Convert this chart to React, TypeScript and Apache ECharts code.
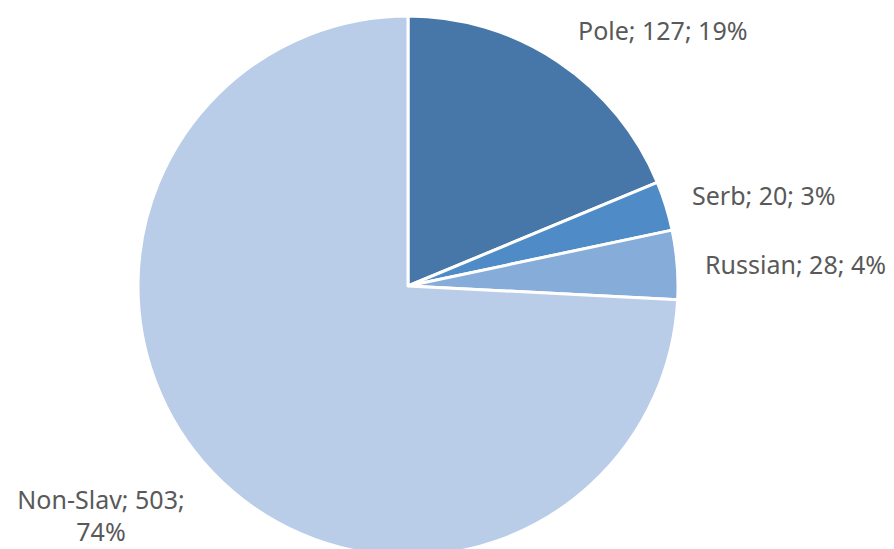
import React, { useEffect, useRef } from "react";
import * as echarts from "echarts";

const categories = ["Pole", "Serb", "Russian", "Non-Slav"];
const values = [127, 20, 28, 503];
const colors = ["#4677a8", "#4f8bc6", "#86acd9", "#b9cde8"];

// label anchor positions (styling only)
const labelPos = [
  { x: 578, y: 30, align: "left" },
  { x: 692, y: 195, align: "left" },
  { x: 705, y: 264, align: "left" },
  { x: 101, y: 515, align: "center" },
];

export default function App() {
  const ref = useRef<HTMLDivElement>(null);
  useEffect(() => {
    document.body.style.margin = "0";
    const chart = echarts.init(ref.current!, undefined, { renderer: "svg" });
    const total = values.reduce((a, b) => a + b, 0);
    chart.setOption({
      animation: false,
      series: [
        {
          type: "pie",
          center: [408, 286],
          radius: 270,
          startAngle: 90,
          clockwise: true,
          avoidLabelOverlap: false,
          itemStyle: { borderColor: "#ffffff", borderWidth: 3 },
          label: {
            show: true,
            position: "outside",
            color: "#595959",
            fontFamily: "Noto Sans",
            fontSize: 25,
            lineHeight: 32,
            formatter: (p: any) => {
              const pct = Math.round((p.value / total) * 100);
              const sep = p.dataIndex === 3 ? "\n" : " ";
              return `${p.name}; ${p.value};${sep}${pct}%`;
            },
          },
          labelLine: { show: false },
          labelLayout: (params: any) => {
            const lp = labelPos[params.dataIndex];
            return { x: lp.x, y: lp.y, align: lp.align, verticalAlign: "middle" };
          },
          emphasis: { disabled: true },
          data: categories.map((name, i) => ({
            name,
            value: values[i],
            itemStyle: { color: colors[i] },
          })),
        },
      ],
    });
    return () => chart.dispose();
  }, []);
  return <div ref={ref} style={{ width: 894, height: 549 }} />;
}
